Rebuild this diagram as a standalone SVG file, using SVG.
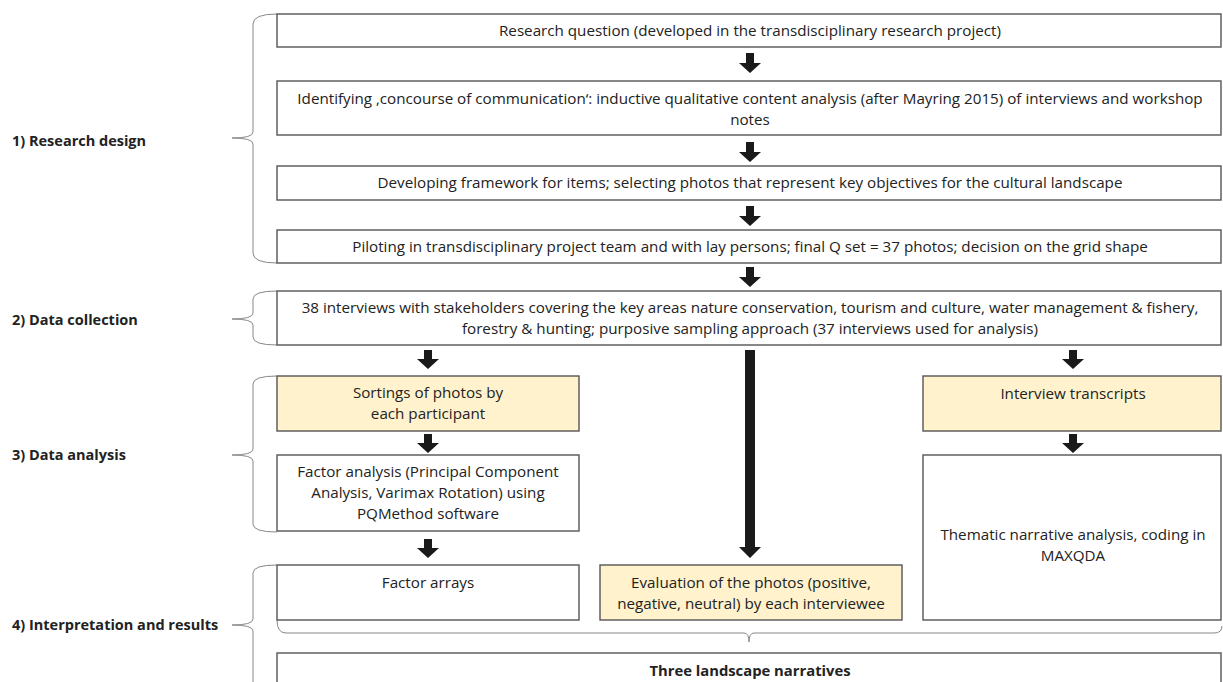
<svg xmlns="http://www.w3.org/2000/svg" width="1223" height="682" viewBox="0 0 1223 682">
<style>
.box{fill:#ffffff;stroke:#555;stroke-width:1.4}
.yel{fill:#FFF2CC;stroke:#555;stroke-width:1.4}
.t{font-family:"Open Sans","Liberation Sans",sans-serif;font-size:15.2px;fill:#222;text-anchor:middle}
.lbl{font-family:"Open Sans","Liberation Sans",sans-serif;font-size:14.5px;font-weight:bold;fill:#222}
.b{font-weight:bold;font-size:14.8px}
.br{fill:none;stroke:#888;stroke-width:1}
.ar{fill:#1a1a1a}
</style>
<rect width="1223" height="682" fill="#ffffff"/>
<g id="labels">
<text class="lbl" x="12" y="146">1) Research design</text>
<text class="lbl" x="12" y="325">2) Data collection</text>
<text class="lbl" x="12" y="460">3) Data analysis</text>
<text class="lbl" x="12" y="630">4) Interpretation and results</text>
</g>
<g id="braces">
<path class="br" d="M277 14 Q253 14 253 24 L253 132 Q253 138 232 138 Q253 138 253 144 L253 253 Q253 263 277 263"/>
<path class="br" d="M277 291 Q253 291 253 299 L253 313 Q253 319 232 319 Q253 319 253 325 L253 337 Q253 345 277 345"/>
<path class="br" d="M277 376 Q253 376 253 384 L253 449 Q253 455 232 455 Q253 455 253 461 L253 524 Q253 532 277 532"/>
<path class="br" d="M277 565 Q253 565 253 573 L253 619 Q253 625 232 625 Q253 625 253 631 L253 684"/>
<path class="br" d="M277 620 Q277 633 286 633 L744 633 Q749 633 749 642 Q749 633 754 633 L1214 633 Q1222 633 1222 626"/>
</g>
<g id="connectors">
<path class="ar" d="M746 53 H754 V63 H761 L750 73 L739 63 H746 Z"/>
<path class="ar" d="M746 142 H754 V152 H761 L750 162 L739 152 H746 Z"/>
<path class="ar" d="M746 206 H754 V216 H761 L750 226 L739 216 H746 Z"/>
<path class="ar" d="M746 267 H754 V277 H761 L750 287 L739 277 H746 Z"/>
<path class="ar" d="M424 350 H432 V359 H439 L428 369 L417 359 H424 Z"/>
<path class="ar" d="M424 434 H432 V443 H439 L428 453 L417 443 H424 Z"/>
<path class="ar" d="M424 539 H432 V548 H439 L428 558 L417 548 H424 Z"/>
<path class="ar" d="M745 350 H755 V547 H761 L750 558 L739 547 H745 Z"/>
<path class="ar" d="M1069 350 H1077 V359 H1084 L1073 369 L1062 359 H1069 Z"/>
<path class="ar" d="M1069 434 H1077 V443 H1084 L1073 453 L1062 443 H1069 Z"/>
</g>
<g id="n1"><rect class="box" x="277" y="14" width="944" height="33"/><text class="t" x="750" y="36">Research question (developed in the transdisciplinary research project)</text></g>
<g id="n2"><rect class="box" x="277" y="81" width="944" height="54"/><text class="t" x="750" y="104">Identifying ‚concourse of communication‘: inductive qualitative content analysis (after Mayring 2015) of interviews and workshop</text><text class="t" x="750" y="125">notes</text></g>
<g id="n3"><rect class="box" x="277" y="166" width="944" height="34"/><text class="t" x="750" y="188">Developing framework for items; selecting photos that represent key objectives for the cultural landscape</text></g>
<g id="n4"><rect class="box" x="277" y="230" width="944" height="33"/><text class="t" x="750" y="252">Piloting in transdisciplinary project team and with lay persons; final Q set = 37 photos; decision on the grid shape</text></g>
<g id="n5"><rect class="box" x="277" y="291" width="944" height="54"/><text class="t" x="750" y="313">38 interviews with stakeholders covering the key areas nature conservation, tourism and culture, water management &amp; fishery,</text><text class="t" x="750" y="334">forestry &amp; hunting; purposive sampling approach (37 interviews used for analysis)</text></g>
<g id="n6"><rect class="yel" x="277" y="376" width="302" height="55"/><text class="t" x="428" y="398">Sortings of photos by</text><text class="t" x="428" y="419">each participant</text></g>
<g id="n7"><rect class="box" x="277" y="455" width="302" height="76"/><text class="t" x="428" y="477">Factor analysis (Principal Component</text><text class="t" x="428" y="498">Analysis, Varimax Rotation) using</text><text class="t" x="428" y="519">PQMethod software</text></g>
<g id="n8"><rect class="box" x="277" y="565" width="302" height="55"/><text class="t" x="428" y="588">Factor arrays</text></g>
<g id="n9"><rect class="yel" x="600" y="565" width="302" height="55"/><text class="t" x="751" y="588">Evaluation of the photos (positive,</text><text class="t" x="751" y="609">negative, neutral) by each interviewee</text></g>
<g id="n10"><rect class="yel" x="923" y="376" width="298" height="55"/><text class="t" x="1073" y="399">Interview transcripts</text></g>
<g id="n11"><rect class="box" x="923" y="455" width="298" height="165"/><text class="t" x="1073" y="540">Thematic narrative analysis, coding in</text><text class="t" x="1073" y="561">MAXQDA</text></g>
<g id="n12"><rect class="box" x="277" y="653" width="944" height="40"/><text class="t b" x="750" y="676">Three landscape narratives</text></g>
</svg>
